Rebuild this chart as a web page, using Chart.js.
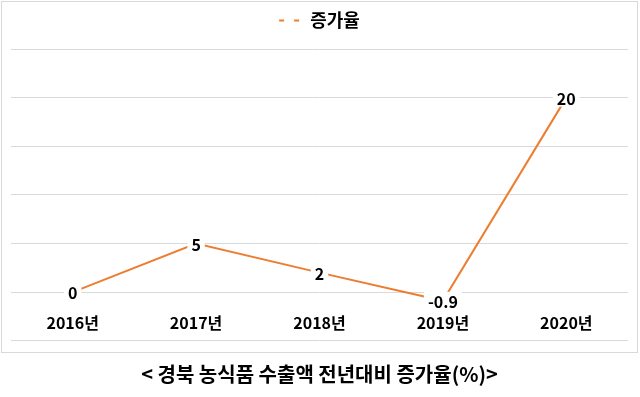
<!DOCTYPE html>
<html>
<head>
<meta charset="utf-8">
<script src="https://cdn.jsdelivr.net/npm/chart.js@4/dist/chart.umd.min.js"></script>
<style>
  html, body { margin: 0; padding: 0; background: #fff; }
  #wrap { width: 640px; height: 397px; }
</style>
</head>
<body>
<div id="wrap"><canvas id="chart"></canvas></div>
<script>
const years = ['2016년', '2017년', '2018년', '2019년', '2020년'];
const growthRate = [0, 5, 2, -0.9, 20];
const seriesName = '증가율';
const chartTitle = '< 경북 농식품 수출액 전년대비 증가율(%)>';
const yTicks = { min: -5, max: 25, step: 5 };

const FONT = "'Noto Sans CJK KR', 'Noto Sans', sans-serif";
const ORANGE = '#ED7D31';
const GRID = '#d9d9d9';

// outer frame around the plot + legend (title sits outside it)
const framePlugin = {
    id: 'frame',
    beforeDraw(chart) {
        const { ctx } = chart;
        ctx.save();
        ctx.fillStyle = '#fff';
        ctx.fillRect(0, 0, chart.width, chart.height);
        ctx.strokeStyle = GRID;
        ctx.lineWidth = 1;
        ctx.strokeRect(1.5, 1.5, 636, 351);
        ctx.restore();
    },
};

// extra room under the legend
const legendSpacer = {
    id: 'legendSpacer',
    beforeInit(chart) {
        const legend = chart.legend;
        if (!legend) {
            return;
        }
        const fit = legend.fit;
        legend.fit = function () {
            fit.call(this);
            this.height += 9.5;
        };
    },
};

// value labels centred on the points, on a white box
const valueLabels = {
    id: 'valueLabels',
    afterDatasetsDraw(chart) {
        const { ctx } = chart;
        ctx.save();
        ctx.font = `bold 16px ${FONT}`;
        ctx.textAlign = 'center';
        ctx.textBaseline = 'middle';
        chart.data.datasets.forEach((ds, i) => {
            const meta = chart.getDatasetMeta(i);
            meta.data.forEach((pt, j) => {
                const text = String(ds.data[j]);
                const w = ctx.measureText(text).width + 8;
                const h = 18;
                ctx.fillStyle = '#fff';
                ctx.fillRect(pt.x - w / 2, pt.y - h / 2, w, h);
                ctx.fillStyle = '#000';
                ctx.fillText(text, pt.x, pt.y + 1);
            });
        });
        ctx.restore();
    },
};

new Chart(document.getElementById('chart'), {
    type: 'line',
    data: {
        labels: years,
        datasets: [{
            label: seriesName,
            data: growthRate,
            borderColor: ORANGE,
            backgroundColor: ORANGE,
            borderWidth: 2,
            pointRadius: 0,
            pointHoverRadius: 0,
            tension: 0,
        }],
    },
    options: {
        responsive: true,
        maintainAspectRatio: false,
        animation: false,
        layout: {
            padding: { top: 5, left: 11, right: 12, bottom: 0 },
        },
        plugins: {
            legend: {
                display: true,
                position: 'top',
                labels: {
                    usePointStyle: true,
                    pointStyleWidth: 22,
                    padding: 6.5,
                    color: '#000',
                    font: { family: FONT, size: 18, weight: 'bold' },
                    generateLabels(chart) {
                        const items = Chart.defaults.plugins.legend.labels.generateLabels(chart);
                        items.forEach((item) => {
                            item.pointStyle = 'line';
                            item.lineDash = [5, 10];
                            item.lineWidth = 2;
                            item.strokeStyle = ORANGE;
                        });
                        return items;
                    },
                },
            },
            title: {
                display: true,
                position: 'bottom',
                text: chartTitle,
                color: '#000',
                font: { family: FONT, size: 20, weight: 'bold', lineHeight: 1.2 },
                padding: { top: 5.8, bottom: 10.5 },
            },
            tooltip: { enabled: false },
        },
        scales: {
            x: {
                offset: true,
                grid: { display: false, drawTicks: false },
                border: { display: false },
                ticks: {
                    mirror: true,
                    padding: 8,
                    color: '#000',
                    font: { family: FONT, size: 16, weight: 'bold', lineHeight: 1.2 },
                },
            },
            y: {
                min: yTicks.min,
                max: yTicks.max,
                grid: { color: GRID, lineWidth: 1, drawTicks: false },
                border: { display: false },
                ticks: { display: false, stepSize: yTicks.step },
            },
        },
    },
    plugins: [framePlugin, legendSpacer, valueLabels],
});
</script>
</body>
</html>
